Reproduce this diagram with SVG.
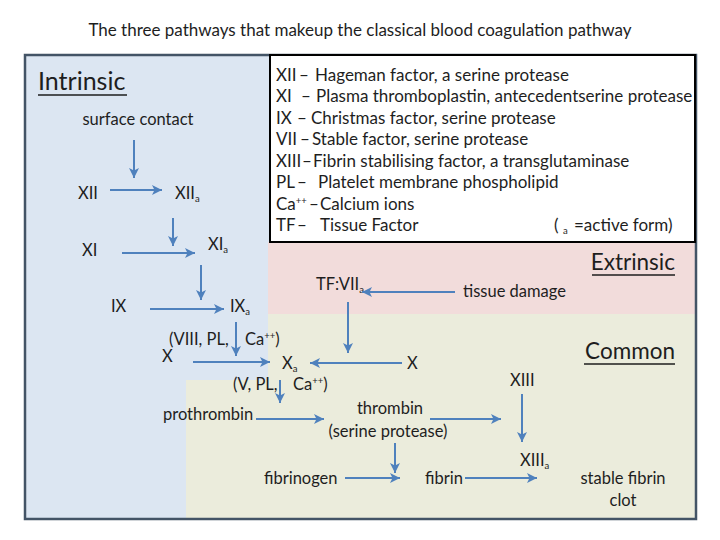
<svg xmlns="http://www.w3.org/2000/svg" width="720" height="540" viewBox="0 0 720 540">
<defs>
<marker id="ah" markerUnits="userSpaceOnUse" markerWidth="11" markerHeight="11" refX="10" refY="5" orient="auto">
<path d="M0,0 L10,5 L0,10 L2.5,5 z" fill="#4f81bd"/>
</marker>
<style>
text{font-family:Lato,"Liberation Sans",sans-serif;fill:#1e1e1e;font-size:16.5px}
.lg{font-size:17px}
.hd{font-size:25px}
.hd2{font-size:22.5px;text-anchor:end}
.c{text-anchor:middle}
.sub{font-size:9.5px}
.con line{stroke:#4f81bd;stroke-width:2;marker-end:url(#ah)}
.ul{stroke:#1e1e1e;stroke-width:1.3}
</style>
</defs>
<rect width="720" height="540" fill="#ffffff"/>
<text x="360" y="36" class="c" style="font-size:17px">The three pathways that makeup the classical blood coagulation pathway</text>
<g id="backgrounds">
<rect x="25" y="55" width="671" height="464" fill="#dce6f2"/>
<rect x="268" y="242" width="428" height="72" fill="#f2dcdb"/>
<path d="M268,314 H696 V519 H186 V380 H268 Z" fill="#ebecdc"/>
<rect x="25" y="55" width="671" height="464" fill="none" stroke="#435466" stroke-width="2.5"/>
</g>
<g id="legend">
<rect x="270" y="55" width="425" height="187" fill="#ffffff" stroke="#000" stroke-width="2"/>
<text class="lg" y="81"><tspan x="276">XII</tspan><tspan x="299">–</tspan><tspan x="315">Hageman factor, a serine protease</tspan></text>
<text class="lg" y="102"><tspan x="276">XI</tspan><tspan x="301">–</tspan><tspan x="316">Plasma thromboplastin, antecedentserine protease</tspan></text>
<text class="lg" y="124"><tspan x="276">IX</tspan><tspan x="297">–</tspan><tspan x="311">Christmas factor, serine protease</tspan></text>
<text class="lg" y="145"><tspan x="276">VII</tspan><tspan x="300">–</tspan><tspan x="312">Stable factor, serine protease</tspan></text>
<text class="lg" y="167"><tspan x="276">XIII</tspan><tspan x="302">–</tspan><tspan x="313">Fibrin stabilising factor, a transglutaminase</tspan></text>
<text class="lg" y="188"><tspan x="276">PL</tspan><tspan x="297">–</tspan><tspan x="318">Platelet membrane phospholipid</tspan></text>
<text class="lg" y="210"><tspan x="276">Ca</tspan><tspan class="sub" dy="-6">++</tspan><tspan x="309" dy="6">–</tspan><tspan x="320">Calcium ions</tspan></text>
<text class="lg" y="231"><tspan x="276">TF</tspan><tspan x="297">–</tspan><tspan x="320">Tissue Factor</tspan></text>
<text class="lg" y="231"><tspan x="554">(</tspan><tspan class="sub" x="563" dy="3">a</tspan><tspan x="574" dy="-3">=active form)</tspan></text>
</g>
<g id="headings">
<text class="hd" x="38" y="90">Intrinsic</text>
<line class="ul" x1="38" y1="95" x2="127" y2="95"/>
<text class="hd2" x="675" y="270">Extrinsic</text>
<line class="ul" x1="592" y1="275" x2="675" y2="275"/>
<text class="hd2" x="675" y="359">Common</text>
<line class="ul" x1="584" y1="364" x2="675" y2="364"/>
</g>
<g id="n-surface"><text x="138" y="125" class="c">surface contact</text></g>
<g id="n-xii"><text x="78" y="199">XII</text></g>
<g id="n-xiia"><text x="175" y="199">XII<tspan class="sub" dy="3">a</tspan></text></g>
<g id="n-xi"><text x="82" y="256">XI</text></g>
<g id="n-xia"><text x="208" y="250">XI<tspan class="sub" dy="3">a</tspan></text></g>
<g id="n-ix"><text x="111" y="312">IX</text></g>
<g id="n-ixa"><text x="230" y="312">IX<tspan class="sub" dy="3">a</tspan></text></g>
<g id="n-cof1"><text x="169" y="345">(VIII, PL,<tspan x="245">Ca</tspan><tspan class="sub" dy="-6">++</tspan><tspan dy="6">)</tspan></text></g>
<g id="n-x1"><text x="162" y="362">X</text></g>
<g id="n-xa"><text x="282" y="369">X<tspan class="sub" dy="3">a</tspan></text></g>
<g id="n-x2"><text x="407" y="369">X</text></g>
<g id="n-tfvii"><text x="316" y="290">TF:VII<tspan class="sub" dy="3">a</tspan></text></g>
<g id="n-tissue"><text x="463" y="297">tissue damage</text></g>
<g id="n-cof2"><text x="233" y="390">(V, PL,<tspan x="293">Ca</tspan><tspan class="sub" dy="-6">++</tspan><tspan dy="6">)</tspan></text></g>
<g id="n-prothrombin"><text x="163" y="420">prothrombin</text></g>
<g id="n-thrombin"><text x="390" y="414" class="c">thrombin</text><text x="388" y="437" class="c">(serine protease)</text></g>
<g id="n-xiii"><text x="510" y="386">XIII</text></g>
<g id="n-xiiia"><text x="520" y="466">XIII<tspan class="sub" dy="3">a</tspan></text></g>
<g id="n-fibrinogen"><text x="264" y="484">fibrinogen</text></g>
<g id="n-fibrin"><text x="425" y="484">fibrin</text></g>
<g id="n-clot"><text x="623" y="484" class="c">stable fibrin</text><text x="623" y="506" class="c">clot</text></g>
<g id="connectors" class="con">
<line x1="134" y1="140" x2="134" y2="178"/>
<line x1="110" y1="190" x2="162" y2="190"/>
<line x1="173" y1="218" x2="173" y2="246"/>
<line x1="122" y1="253" x2="195" y2="253"/>
<line x1="201" y1="265" x2="201" y2="300"/>
<line x1="150" y1="309" x2="224" y2="309"/>
<line x1="236" y1="322" x2="236" y2="356"/>
<line x1="193" y1="362" x2="270" y2="362"/>
<line x1="348" y1="302" x2="348" y2="353"/>
<line x1="402" y1="363" x2="310" y2="363"/>
<line x1="455" y1="292" x2="362" y2="292"/>
<line x1="280" y1="380" x2="280" y2="403"/>
<line x1="256" y1="419" x2="324" y2="419"/>
<line x1="430" y1="419" x2="501" y2="419"/>
<line x1="522" y1="394" x2="522" y2="442"/>
<line x1="395" y1="443" x2="395" y2="473"/>
<line x1="345" y1="478" x2="400" y2="478"/>
<line x1="465" y1="478" x2="537" y2="478"/>
</g>
</svg>
